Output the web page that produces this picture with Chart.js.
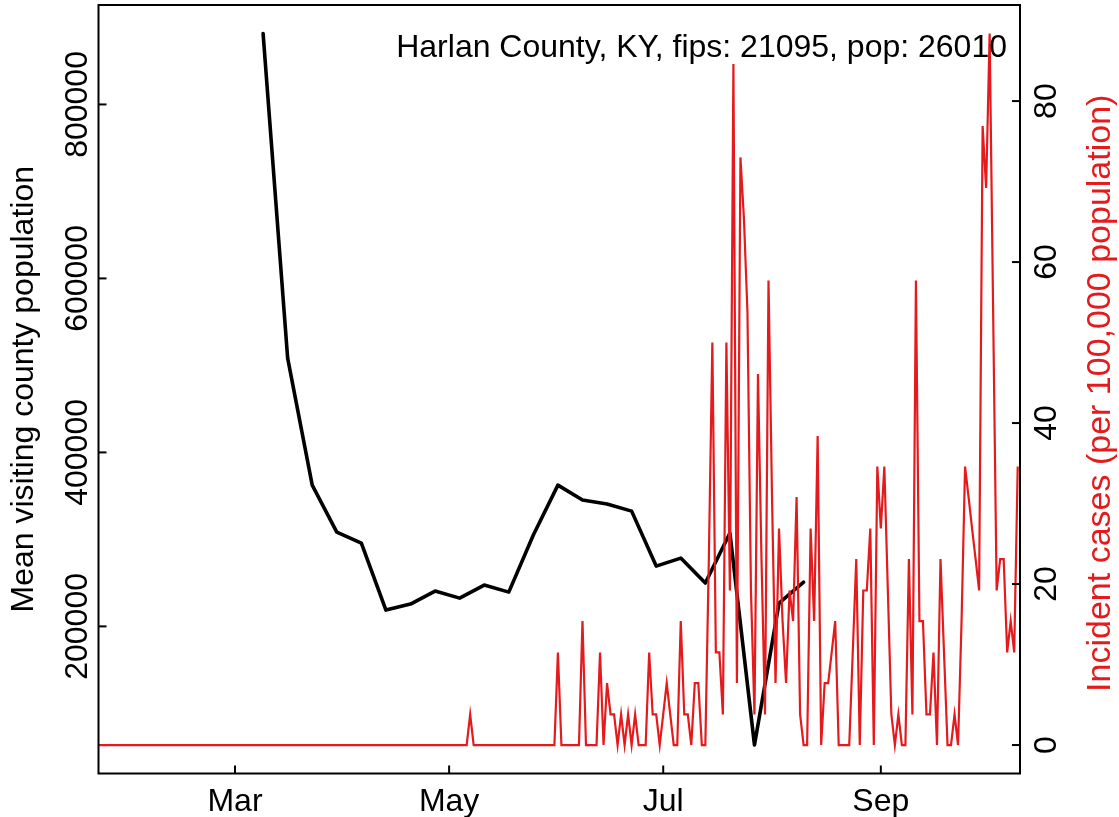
<!DOCTYPE html>
<html>
<head>
<meta charset="utf-8">
<script src="https://cdn.jsdelivr.net/npm/chart.js@4.4.1/dist/chart.umd.min.js"></script>
<style>
  html, body { margin: 0; padding: 0; background: #fff; }
  #wrap { width: 1119px; height: 817px; }
</style>
</head>
<body>
<div id="wrap"><canvas id="chart" width="1119" height="817"></canvas></div>
<script>
// days are counted from Jan 1 2020 (day 0)
const titleText = 'Harlan County, KY, fips: 21095, pop: 26010';

// weekly mean visiting population (black line)
const visitDays = [68, 75, 82, 89, 96, 103, 110, 117, 124, 131, 138, 145,
    152, 159, 166, 173, 180, 187, 194, 201, 208, 215, 222];
const visitPop = [881600, 508400, 362400, 308400, 295800, 218700, 225600, 240600,
    232500, 247500, 239400, 305000, 362400, 345200, 340600, 332500, 269300, 278500,
    249800, 307300, 63600, 226800, 250900];

// daily incident cases per 100,000 (red line), first value is Jan 22
const caseFirstDay = 21;
const incidentCases = [
    // Jan 22-31
    0, 0, 0, 0, 0, 0, 0, 0, 0, 0,
    // Feb
    0, 0, 0, 0, 0, 0, 0, 0, 0, 0, 0, 0, 0, 0, 0, 0, 0, 0, 0, 0, 0, 0, 0, 0, 0, 0, 0, 0, 0,
    // Mar
    0, 0, 0, 0, 0, 0, 0, 0, 0, 0, 0, 0, 0, 0, 0, 0, 0, 0, 0, 0, 0, 0, 0, 0, 0, 0, 0, 0, 0, 0, 0,
    // Apr
    0, 0, 0, 0, 0, 0, 0, 0, 0, 0, 0, 0, 0, 0, 0, 0, 0, 0, 0, 0, 0, 0, 0, 0, 0, 0, 0, 0, 0, 0,
    // May
    0, 0, 0, 0, 0, 0, 3.8, 0, 0, 0, 0, 0, 0, 0, 0, 0, 0, 0, 0, 0, 0, 0, 0, 0, 0, 0, 0, 0, 0, 0, 0,
    // Jun
    11.5, 0, 0, 0, 0, 0, 0, 15.4, 0, 0, 0, 0, 11.5, 0, 7.7, 3.8, 3.8, 0, 3.8, 0,
    3.8, 0, 3.8, 0, 0, 0, 11.5, 3.8, 3.8, 0,
    // Jul
    3.8, 7.7, 3.8, 0, 0, 15.4, 3.8, 3.8, 0, 7.7, 7.7, 0, 0, 23.1, 50.0, 11.5,
    11.5, 3.8, 50.0, 19.2, 84.6, 7.7, 73.0, 65.4, 53.8, 19.2, 3.8, 46.1, 23.1, 3.8, 57.7,
    // Aug
    30.8, 7.7, 26.9, 15.4, 7.7, 19.2, 15.4, 30.8, 3.8, 0, 0, 26.9, 15.4, 38.4, 0, 7.7,
    7.7, 11.5, 15.4, 0, 0, 0, 0, 11.5, 23.1, 0, 19.2, 19.2, 26.9, 0, 34.6,
    // Sep
    26.9, 34.6, 19.2, 3.8, 0, 3.8, 0, 0, 23.1, 3.8, 57.7, 15.4, 15.4, 3.8, 3.8,
    11.5, 0, 23.1, 11.5, 0, 0, 3.8, 0, 15.4, 34.6, 30.8, 26.9, 23.1, 19.2, 76.9,
    // Oct 1-10
    69.2, 88.4, 53.8, 19.2, 23.1, 23.1, 11.5, 15.4, 11.5, 34.6
];

// axis ticks
const monthTickDays = [60, 121, 182, 244];
const monthTickLabels = ['Mar', 'May', 'Jul', 'Sep'];
const popTicks = [200000, 400000, 600000, 800000];
const caseTicks = [0, 20, 40, 60, 80];

const FONT = '32px "Liberation Sans", Arial, Helvetica, sans-serif';
const RIGHT_TITLE_FONT = '34px "Liberation Sans", Arial, Helvetica, sans-serif';
const RED = '#e41a1c';

const visitData = visitDays.map((d, i) => ({ x: d, y: visitPop[i] }));
const caseData = incidentCases.map((v, i) => ({ x: caseFirstDay + i, y: v }));

// R style 4% padding around the data range
const padRange = (vals) => {
    const lo = Math.min(...vals);
    const hi = Math.max(...vals);
    const p = 0.04 * (hi - lo);
    return [lo - p, hi + p];
};
const popRange = padRange(visitPop);
const caseRange = padRange(incidentCases);

const rAxes = {
    id: 'rAxes',
    afterDraw(chart) {
        const { ctx, chartArea: a, scales } = chart;
        ctx.save();
        ctx.strokeStyle = '#000';
        ctx.lineWidth = 2;
        ctx.strokeRect(a.left, a.top, a.right - a.left, a.bottom - a.top);

        ctx.font = FONT;
        ctx.fillStyle = '#000';

        // bottom axis, ticks point inward
        ctx.textAlign = 'center';
        ctx.textBaseline = 'alphabetic';
        monthTickDays.forEach((d, i) => {
            const px = scales.x.getPixelForValue(d);
            ctx.beginPath();
            ctx.moveTo(px, a.bottom);
            ctx.lineTo(px, a.bottom - 8);
            ctx.stroke();
            ctx.fillText(monthTickLabels[i], px, 811);
        });

        // left axis
        popTicks.forEach((v) => {
            const py = scales.y.getPixelForValue(v);
            ctx.beginPath();
            ctx.moveTo(a.left, py);
            ctx.lineTo(a.left + 8, py);
            ctx.stroke();
            ctx.save();
            ctx.translate(87, py);
            ctx.rotate(-Math.PI / 2);
            ctx.fillText(String(v), 0, 0);
            ctx.restore();
        });

        // right axis
        caseTicks.forEach((v) => {
            const py = scales.y1.getPixelForValue(v);
            ctx.beginPath();
            ctx.moveTo(a.right, py);
            ctx.lineTo(a.right - 8, py);
            ctx.stroke();
            ctx.save();
            ctx.translate(1056, py);
            ctx.rotate(-Math.PI / 2);
            ctx.fillText(String(v), 0, 0);
            ctx.restore();
        });

        const midY = (a.top + a.bottom) / 2;
        ctx.save();
        ctx.translate(33, midY);
        ctx.rotate(-Math.PI / 2);
        ctx.fillText('Mean visiting county population', 0, 0);
        ctx.restore();

        ctx.save();
        ctx.fillStyle = RED;
        ctx.font = RIGHT_TITLE_FONT;
        ctx.translate(1110, midY + 4);
        ctx.rotate(-Math.PI / 2);
        ctx.fillText('Incident cases (per 100,000 population)', 0, 0);
        ctx.restore();

        ctx.textAlign = 'right';
        ctx.fillText(titleText, 1007, 57);
        ctx.restore();
    }
};

const ctx = document.getElementById('chart').getContext('2d');

new Chart(ctx, {
    type: 'line',
    data: {
        datasets: [{
            label: 'Incident cases',
            data: caseData,
            yAxisID: 'y1',
            borderColor: RED,
            borderWidth: 2.2,
            pointRadius: 0,
            tension: 0,
            fill: false,
        }, {
            label: 'Mean visiting county population',
            data: visitData,
            yAxisID: 'y',
            borderColor: '#000',
            borderWidth: 3.6,
            borderJoinStyle: 'round',
            borderCapStyle: 'round',
            pointRadius: 0,
            tension: 0,
            fill: false,
        }],
    },
    options: {
        responsive: false,
        devicePixelRatio: 1,
        animation: false,
        layout: { padding: { top: 5, left: 0, right: 0, bottom: 0 } },
        plugins: {
            legend: { display: false },
            tooltip: { enabled: false },
        },
        scales: {
            x: {
                type: 'linear',
                min: 21.11,
                max: 283.65,
                ticks: { display: false },
                grid: { display: false },
                border: { display: false },
                afterFit: (s) => { s.height = 43.5; },
            },
            y: {
                position: 'left',
                min: popRange[0],
                max: popRange[1],
                ticks: { display: false },
                grid: { display: false },
                border: { display: false },
                afterFit: (s) => { s.width = 98.5; },
            },
            y1: {
                position: 'right',
                min: caseRange[0],
                max: caseRange[1],
                ticks: { display: false },
                grid: { display: false },
                border: { display: false },
                afterFit: (s) => { s.width = 99; },
            },
        },
    },
    plugins: [rAxes],
});
</script>
</body>
</html>
